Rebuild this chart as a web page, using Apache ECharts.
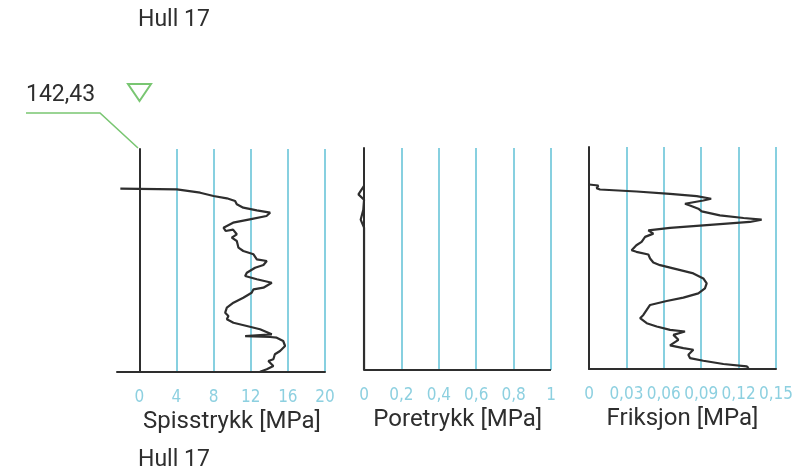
<!DOCTYPE html>
<html>
<head>
<meta charset="utf-8">
<script src="https://cdn.jsdelivr.net/npm/echarts@6/dist/echarts.min.js"></script>
<style>
html,body{margin:0;padding:0;background:#fff;}
#chart{width:798px;height:475px;}
</style>
</head>
<body>
<div id="chart"></div>
<script>
// ---- Data (depth in m below top of plot, values in MPa) ----
const panelTitles = ['Spisstrykk [MPa]', 'Poretrykk [MPa]', 'Friksjon [MPa]'];
const headerText = 'Hull 17';
const elevationText = '142,43';
const xMins = [-2.4, -0.035, 0];
const xMaxs = [20, 1, 0.15];
const tickValues = [
  [0, 4, 8, 12, 16, 20],
  [0, 0.2, 0.4, 0.6, 0.8, 1],
  [0, 0.03, 0.06, 0.09, 0.12, 0.15]
];
const depthMax = 11.15;

const spissValue = [-2.04, 4.05, 6.56, 7.99, 9.43, 10.32, 10.5, 11.2, 12.66, 14.09, 13.7, 11.9, 10.1, 9.07, 9.3, 10.1, 10.5, 9.96, 10.5, 10.68, 11.2, 12.3, 12.66, 13.73, 13.37, 12.47, 11.58, 11.4, 12.66, 14.27, 13.37, 12.3, 12.1, 11.2, 10.14, 9.43, 9.25, 9.6, 9.43, 10.14, 11.58, 13.0, 14.27, 11.4, 14.1, 14.8, 15.5, 15.7, 15.16, 14.6, 14.44, 13.9, 14.44, 13.73, 13.0];
const spissDepth = [1.985, 2.015, 2.185, 2.35, 2.465, 2.6, 2.765, 2.935, 3.065, 3.185, 3.35, 3.515, 3.685, 3.935, 4.1, 4.03, 4.265, 4.435, 4.6, 4.935, 5.1, 5.265, 5.515, 5.6, 5.8, 5.935, 6.185, 6.35, 6.515, 6.685, 6.935, 7.015, 7.185, 7.435, 7.685, 7.935, 8.185, 8.35, 8.515, 8.685, 8.85, 9.015, 9.265, 9.36, 9.4, 9.435, 9.6, 9.85, 10.1, 10.265, 10.515, 10.6, 10.85, 11.015, 11.135];

const poreValue = [0, -0.03, 0, -0.004, -0.018, 0, 0];
const poreDepth = [1.9, 2.33, 2.6, 3.1, 3.6, 4.0, 11.15];

const friksValue = [0, 0.0075, 0.0061, 0.0088, 0.0382, 0.065, 0.0864, 0.098, 0.0917, 0.077, 0.081, 0.0877, 0.0904, 0.105, 0.124, 0.1385, 0.129, 0.0917, 0.065, 0.0476, 0.0516, 0.045, 0.0422, 0.038, 0.0342, 0.038, 0.0476, 0.049, 0.0516, 0.057, 0.070, 0.0837, 0.0917, 0.0944, 0.093, 0.0877, 0.0757, 0.0623, 0.049, 0.0463, 0.0436, 0.041, 0.0463, 0.0543, 0.065, 0.077, 0.0677, 0.0717, 0.065, 0.0757, 0.0837, 0.0797, 0.081, 0.0917, 0.1078, 0.1265, 0.128];
const friksDepth = [1.885, 1.935, 2.065, 2.135, 2.235, 2.35, 2.465, 2.6, 2.685, 2.85, 2.935, 3.1, 3.235, 3.435, 3.565, 3.65, 3.765, 3.935, 4.065, 4.185, 4.35, 4.515, 4.765, 4.935, 5.185, 5.265, 5.4, 5.6, 5.8, 5.935, 6.135, 6.35, 6.6, 6.85, 7.1, 7.35, 7.565, 7.735, 7.935, 8.185, 8.435, 8.6, 8.85, 9.015, 9.185, 9.265, 9.435, 9.685, 9.965, 10.1, 10.185, 10.435, 10.6, 10.735, 10.9, 11.015, 11.1];

// ---- Styling ----
const gridBlue = '#5fc0d6';
const labelBlue = '#8dd0e0';
const ink = '#2e2e2e';
const green = '#79c672';
const labelFont = "'Liberation Sans Narrow', 'DejaVu Sans Condensed', Roboto, sans-serif";
const textFont = "Roboto, 'Noto Sans', sans-serif";

const grids = [
  {left: 117, width: 208, top: 149, height: 223},
  {left: 357.5, width: 193.5, top: 148, height: 222},
  {left: 589, width: 187, top: 147, height: 222}
];
// which panels draw their own bottom axis line (panel 2 draws it from 0 via a series)
const showXAxisLine = [true, false, true];

function fmt(v) {
  return String(Math.round(v * 1000) / 1000).replace('.', ',');
}

const zip = (xs, ys) => xs.map((x, i) => [x, ys[i]]);

const xAxes = grids.map((g, i) => ({
  type: 'value', gridIndex: i, position: 'bottom',
  min: xMins[i], max: xMaxs[i],
  axisLine: {show: showXAxisLine[i], onZero: false, lineStyle: {color: ink, width: 2}},
  axisTick: {show: false, customValues: tickValues[i]},
  splitLine: {show: true, lineStyle: {color: gridBlue, width: 1.5}},
  axisLabel: {color: labelBlue, fontFamily: labelFont, fontSize: 17, margin: 17, formatter: fmt,
    customValues: tickValues[i], showMinLabel: true, showMaxLabel: true},
  name: panelTitles[i], nameLocation: 'middle', nameGap: 38,
  nameTextStyle: {color: ink, fontFamily: textFont, fontSize: 24}
}));
// keep the title centred over the 0..max span
xAxes[0].nameTextStyle.padding = [0, 0, 0, 22];
xAxes[1].nameTextStyle.padding = [0, 0, 0, 7];

const yAxes = grids.map((g, i) => ({
  type: 'value', gridIndex: i, inverse: true, min: 0, max: depthMax,
  axisLine: {show: true, onZero: true, lineStyle: {color: ink, width: 2}},
  axisTick: {show: false}, axisLabel: {show: false}, splitLine: {show: false}
}));

const lineBase = {type: 'line', showSymbol: false, symbol: 'none', clip: false, silent: true,
  lineStyle: {color: ink, width: 2.2}, animation: false};

const series = [
  Object.assign({}, lineBase, {xAxisIndex: 0, yAxisIndex: 0, data: zip(spissValue, spissDepth)}),
  Object.assign({}, lineBase, {xAxisIndex: 1, yAxisIndex: 1, data: zip(poreValue, poreDepth)}),
  Object.assign({}, lineBase, {xAxisIndex: 2, yAxisIndex: 2, data: zip(friksValue, friksDepth)}),
  Object.assign({}, lineBase, {xAxisIndex: 1, yAxisIndex: 1, lineStyle: {color: ink, width: 2},
    data: [[0, depthMax], [xMaxs[1], depthMax]]})
];

const chart = echarts.init(document.getElementById('chart'), null, {renderer: 'canvas'});
chart.setOption({
  backgroundColor: '#ffffff',
  animation: false,
  grid: grids,
  xAxis: xAxes,
  yAxis: yAxes,
  series: series,
  graphic: [
    {type: 'text', left: 138, top: 9, style: {text: headerText, fill: ink, font: '23px ' + textFont}},
    {type: 'text', left: 138, top: 449, style: {text: headerText, fill: ink, font: '23px ' + textFont}},
    {type: 'text', left: 26, top: 84, style: {text: elevationText, fill: ink, font: '23px ' + textFont}},
    {type: 'polyline', shape: {points: [[26, 113], [100, 113], [138, 148]]},
      style: {stroke: green, lineWidth: 1.6, fill: null}},
    {type: 'polygon', shape: {points: [[128, 84], [151, 84], [139.5, 101]]},
      style: {stroke: green, lineWidth: 2, fill: null}}
  ]
});
</script>
</body>
</html>
